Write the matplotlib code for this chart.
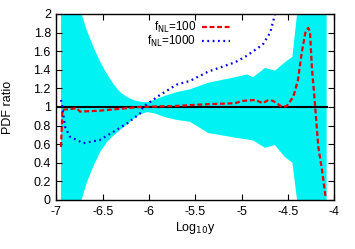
import numpy as np
import matplotlib
matplotlib.use('Agg')
from matplotlib import pyplot as plt

plt.rcParams['font.family'] = ['Liberation Sans', 'DejaVu Sans']
plt.rcParams['font.size'] = 9

# cyan error band (upper / lower edge of PDF ratio)
band_x = [-6.951, -6.728, -6.674, -6.602, -6.530, -6.457, -6.386, -6.314, -6.241, -6.170,
          -6.097, -6.02, -5.935, -5.827, -5.697, -5.557, -5.36, -5.07, -4.94, -4.875,
          -4.745, -4.64, -4.53, -4.45, -4.40, -4.08]
band_hi = [2.5, 2.0, 1.83, 1.65, 1.49, 1.36, 1.25, 1.16, 1.11, 1.075,
           1.057, 1.05, 1.08, 1.12, 1.16, 1.19, 1.26, 1.32, 1.35, 1.32,
           1.42, 1.39, 1.48, 1.54, 2.0, 2.5]
band_lo = [-0.5, 0.0, 0.18, 0.36, 0.51, 0.62, 0.69, 0.75, 0.81, 0.87,
           0.92, 0.945, 0.93, 0.89, 0.86, 0.84, 0.72, 0.67, 0.65, 0.64,
           0.56, 0.59, 0.46, 0.40, 0.0, -0.5]

# f_NL = 100
x100 = [-6.951, -6.935, -6.78, -6.745, -6.53, -6.10, -5.72, -5.36, -5.07, -4.99, -4.85,
        -4.77, -4.71, -4.66, -4.56, -4.51, -4.44, -4.39, -4.35, -4.31, -4.28, -4.26,
        -4.24, -4.21, -4.17, -4.13, -4.09]
y100 = [0.57, 0.97, 0.985, 0.95, 0.96, 1.0, 1.01, 1.03, 1.04, 1.065, 1.075,
        1.04, 1.075, 1.065, 1.0, 1.01, 1.11, 1.29, 1.58, 1.80, 1.85, 1.81,
        1.43, 1.075, 0.57, 0.32, 0.02]

# f_NL = 1000
x1000 = [-6.951, -6.94, -6.93, -6.908, -6.854, -6.71, -6.53, -6.39, -6.24, -6.097, -6.065,
         -5.88, -5.70, -5.557, -5.36, -5.07, -4.96, -4.77, -4.69, -4.64]
y1000 = [1.075, 1.02, 0.95, 0.79, 0.68, 0.61, 0.645, 0.73, 0.82, 0.93, 1.0,
         1.13, 1.24, 1.28, 1.38, 1.48, 1.54, 1.67, 1.80, 1.99]

fig = plt.figure(figsize=(3.55, 2.49), dpi=100)
ax = fig.add_axes([0.159, 0.197, 0.782, 0.747])

ax.fill_between(band_x, band_lo, band_hi, color='#00f2f2', linewidth=0)
ax.plot([-7, -4.08], [1, 1], color='black', lw=1.5)
ax.plot(x100, y100, color='#ee0000', lw=1.6, ls=(0, (2.2, 1.2)), label='f$_{\\rm NL}$=100')
ax.plot(x1000, y1000, color='#0000ee', lw=1.6, ls=(0, (0.8, 1.6)), label='f$_{\\rm NL}$=1000')

ax.set_xlim(-7, -4)
ax.set_ylim(0, 2)
ax.set_xticks(np.arange(-7, -3.9, 0.5))
ax.set_xticklabels(['-7', '-6.5', '-6', '-5.5', '-5', '-4.5', '-4'])
ax.set_yticks(np.arange(0, 2.01, 0.2))
ax.set_yticklabels(['0', '0.2', '0.4', '0.6', '0.8', '1', '1.2', '1.4', '1.6', '1.8', '2'])
ax.tick_params(direction='in', top=True, right=True, length=4, width=0.8, pad=4)
ax.set_xlabel('Log$_{10}$y', labelpad=2)
ax.set_ylabel('PDF ratio', labelpad=14)
for s in ax.spines.values():
    s.set_linewidth(1.0)

ax.legend(loc='upper right', bbox_to_anchor=(0.632, 0.98), frameon=False, markerfirst=False,
          fontsize=8.4, handlelength=2.4, handletextpad=0.5, labelspacing=-0.12,
          borderaxespad=0, borderpad=0.2)

fig.savefig('out.png', dpi=100)
